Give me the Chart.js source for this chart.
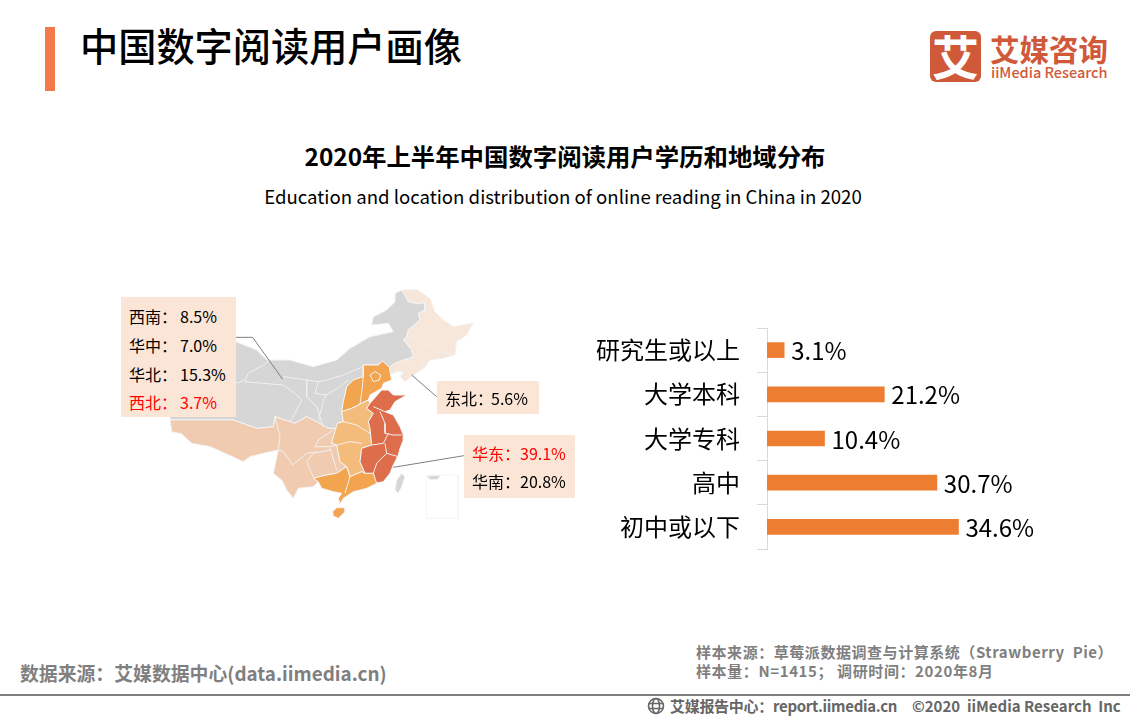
<!DOCTYPE html>
<html lang="zh">
<head>
<meta charset="utf-8">
<title>中国数字阅读用户画像</title>
<script src="https://cdn.jsdelivr.net/npm/chart.js@4"></script>
<style>
  html, body { margin: 0; padding: 0; width: 1130px; height: 720px; overflow: hidden; background: #fff; }
  body { position: relative; font-family: "Noto Sans CJK SC", "Noto Sans", sans-serif; color: #000; }
  canvas { position: absolute; }
  .t { position: absolute; white-space: nowrap; line-height: 1; }
  .box { position: absolute; background: #FBE5D6; }
  .row { position: absolute; white-space: nowrap; font-size: 16px; line-height: 1; }
  .row .v { position: absolute; top: 0; }
  .foot { color: #7F7F7F; font-weight: 700; }
</style>
</head>
<body>
<div style="position:absolute;left:45px;top:27px;width:10px;height:64px;background:#F4794B"></div>
<div class="t" id="title" style="left:80px;top:26px;font-size:38.2px;font-weight:500">中国数字阅读用户画像</div>

<div style="position:absolute;left:930px;top:31px;width:51px;height:51px;border-radius:6px;background:#D0593A"></div>
<div class="t" style="left:932px;top:31px;font-size:47px;font-weight:700;color:#fff">艾</div>
<div class="t" style="left:990px;top:34px;font-size:29.5px;font-weight:700;color:#D0593A">艾媒咨询</div>
<div class="t" style="left:991px;top:65px;font-size:14.5px;font-weight:500;color:#D0593A">iiMedia Research</div>

<div class="t" style="left:0;width:1130px;text-align:center;top:144px;font-size:24.4px;font-weight:700">2020年上半年中国数字阅读用户学历和地域分布</div>
<div class="t" style="left:-2px;width:1130px;text-align:center;top:187px;font-size:18.6px">Education and location distribution of online reading in China in 2020</div>

<canvas id="mapChart" width="470" height="250" style="left:110px;top:280px;width:470px;height:250px"></canvas>
<canvas id="eduChart" width="519" height="237" style="left:580px;top:320px;width:519px;height:237px"></canvas>
<div id="callouts"></div>

<div class="t foot" style="left:20px;top:664px;font-size:18.85px">数据来源：艾媒数据中心(data.iimedia.cn)</div>
<div class="t foot" style="left:696px;top:644px;font-size:15px;letter-spacing:.55px">样本来源：草莓派数据调查与计算系统（Strawberry&nbsp; Pie）</div>
<div class="t foot" style="left:696px;top:663px;font-size:15px;letter-spacing:.6px">样本量：N=1415； 调研时间：2020年8月</div>
<div style="position:absolute;left:0;top:694px;width:1130px;height:2px;background:#7F7F7F"></div>
<svg style="position:absolute;left:647px;top:697px" width="18" height="18" viewBox="0 0 18 18" fill="none" stroke="#666" stroke-width="1.6">
  <circle cx="9" cy="9" r="7.5"/><ellipse cx="9" cy="9" rx="3.5" ry="7.5"/><path d="M2 6.5h14M2 11.5h14"/>
</svg>
<div class="t foot" style="left:670px;top:698px;font-size:15px;color:#666;letter-spacing:-.3px">艾媒报告中心：report.iimedia.cn</div>
<div class="t foot" style="left:912px;top:698px;font-size:15px;color:#666">©2020&nbsp; iiMedia Research&nbsp; Inc</div>

<script>
// bar chart data
const eduLabels = ['研究生或以上', '大学本科', '大学专科', '高中', '初中或以下'];
const eduValues = [3.1, 21.2, 10.4, 30.7, 34.6];

// callout data
const westNames = ['西南', '华中', '华北', '西北'];
const westShares = ['8.5%', '7.0%', '15.3%', '3.7%'];
const northeastNames = ['东北'];
const northeastShares = ['5.6%'];
const eastNames = ['华东', '华南'];
const eastShares = ['39.1%', '20.8%'];

// map outlines, in map grid units (x 0-1410, y 0-750)
const outlineGrey = [[378,185],[440,210],[470,240],[540,240],[610,260],[680,240],[720,205],[780,170],[850,155],[835,130],[785,135],[790,110],[830,90],[855,65],[855,40],[875,30],[885,45],[895,65],[920,70],[945,68],[945,90],[925,100],[930,120],[895,150],[890,175],[880,178],[905,210],[910,232],[880,240],[855,250],[838,262],[820,245],[805,255],[795,255],[760,255],[760,290],[730,300],[710,320],[700,365],[695,395],[700,425],[682,430],[682,445],[655,445],[620,425],[590,410],[555,430],[495,410],[490,440],[440,445],[370,420],[180,420],[180,300],[350,100],[378,185]];
const outlineNortheast = [[875,30],[920,28],[960,55],[975,95],[1000,120],[1030,140],[1090,128],[1070,165],[1040,185],[1035,225],[1000,235],[960,240],[945,262],[905,290],[885,305],[870,290],[880,275],[860,275],[838,285],[838,262],[855,250],[880,240],[910,232],[905,210],[880,178],[890,175],[895,150],[930,120],[925,100],[945,90],[945,68],[920,70],[895,65],[885,45],[875,30]];
const outlineSouthwest = [[180,420],[185,455],[215,462],[245,490],[300,500],[345,520],[400,545],[420,530],[460,520],[505,510],[490,580],[515,600],[530,630],[550,655],[565,625],[610,620],[625,605],[610,595],[650,585],[680,580],[710,560],[690,545],[680,495],[665,490],[670,470],[682,445],[655,445],[620,425],[590,410],[555,430],[495,410],[490,440],[440,445],[370,420],[180,420]];
const outlineNorthOrange = [[760,255],[760,290],[730,300],[710,320],[700,365],[695,395],[725,385],[755,370],[775,360],[780,345],[815,325],[820,310],[845,300],[840,275],[838,262],[818,243],[805,255],[795,255],[760,255]];
const outlineCentral = [[695,395],[725,385],[755,370],[775,360],[780,370],[770,385],[790,400],[775,425],[780,445],[785,495],[755,505],[750,545],[765,580],[755,575],[720,590],[710,560],[690,545],[680,495],[665,490],[670,470],[682,430],[700,425],[695,395]];
const outlineEast = [[780,370],[815,330],[835,330],[850,345],[890,345],[855,365],[840,390],[825,395],[850,405],[870,440],[880,465],[880,480],[870,505],[865,525],[850,555],[840,580],[820,605],[795,610],[790,580],[765,580],[750,545],[755,505],[785,495],[780,445],[775,425],[790,400],[770,385],[780,370]];
const outlineSouthOrange = [[610,595],[650,585],[680,580],[710,560],[720,590],[755,575],[765,580],[790,580],[800,610],[770,625],[730,635],[700,655],[690,672],[685,655],[695,640],[670,635],[635,625],[625,605],[610,595]];
const outlineHainan = [[668,695],[680,683],[705,683],[705,695],[685,715],[670,708],[668,695]];
const outlineTaiwan = [[855,630],[860,600],[875,580],[885,590],[875,620],[865,640],[855,630]];
const outlineIslandsBox = [[950,585],[1045,585],[1045,715],[950,715],[950,585]];
const outlineIslandsTop = [[950,588],[990,586],[985,597],[962,600],[950,588]];

// inner borders between provinces
const innerBorders = [
  [[365,315],[405,300],[415,280],[460,255],[480,240]],
  [[405,305],[460,310],[520,315],[560,345],[575,360],[555,400],[540,425]],
  [[520,290],[590,300],[625,305],[650,300],[700,285],[755,262]],
  [[590,300],[590,350],[620,380],[640,440]],
  [[625,305],[615,340],[650,345],[640,360],[635,385],[625,420]],
  [[650,345],[690,320],[715,300]],
  [[885,170],[910,175],[940,195],[980,205],[1000,220],[1030,220]],
  [[905,230],[935,240],[940,265]],
  [[760,290],[755,340],[750,372]],
  [[780,285],[795,275],[812,285],[808,300],[790,305],[780,285]],
  [[790,380],[825,395]],
  [[810,395],[825,430],[825,460],[850,465],[875,465]],
  [[785,495],[820,490],[835,460]],
  [[825,490],[830,520],[865,530]],
  [[830,520],[800,550],[790,580]],
  [[710,560],[720,590],[705,640]],
  [[700,425],[740,435],[780,460]],
  [[680,495],[720,485],[755,490]],
  [[495,410],[510,470],[505,510],[520,515],[548,555],[590,520],[620,515]],
  [[670,450],[625,480],[615,500],[660,500],[680,495]],
  [[590,545],[610,520],[660,510]],
  [[590,545],[610,592]],
  [[660,505],[680,570]]
];

// leader lines from the callouts
const leaderWest = [[378,172],[428,172],[518,298]];
const leaderNortheast = [[905,285],[980,350]];
const leaderEast = [[850,562],[1062,527]];

function toPoints(list) {
  return list.map(p => ({ x: p[0], y: p[1] }));
}

function shape(list, color) {
  return {
    data: toPoints(list),
    showLine: true,
    fill: 'shape',
    backgroundColor: color,
    borderColor: '#F4F4F4',
    borderWidth: 1,
    pointRadius: 0,
    tension: 0
  };
}

function line(list, color, width) {
  return {
    data: toPoints(list),
    showLine: true,
    fill: false,
    borderColor: color,
    borderWidth: width,
    pointRadius: 0,
    tension: 0
  };
}

function renderMap() {
  const datasets = [
    shape(outlineGrey, '#D6D6D6'),
    shape(outlineNortheast, '#F7E6DA'),
    shape(outlineSouthwest, '#F0CBB0'),
    shape(outlineNorthOrange, '#F2A44E'),
    shape(outlineCentral, '#F4BC7A'),
    shape(outlineEast, '#DE6E4B'),
    shape(outlineSouthOrange, '#F2A44E'),
    shape(outlineHainan, '#F2A44E'),
    shape(outlineTaiwan, '#D6D6D6'),
    shape(outlineIslandsBox, '#FFFFFF'),
    shape(outlineIslandsTop, '#D6D6D6')
  ];
  innerBorders.forEach(b => datasets.push(line(b, '#F1F1F1', 1)));
  datasets.push(line(leaderWest, '#808080', 1));
  datasets.push(line(leaderNortheast, '#808080', 1));
  datasets.push(line(leaderEast, '#808080', 1));
  // Chart.js paints the first dataset last
  datasets.reverse();

  new Chart(document.getElementById('mapChart'), {
    type: 'scatter',
    data: { datasets },
    options: {
      responsive: false,
      animation: false,
      layout: { padding: 0 },
      plugins: { legend: { display: false }, tooltip: { enabled: false } },
      scales: {
        x: { type: 'linear', min: 0, max: 1410, display: false },
        y: { type: 'linear', min: 0, max: 750, reverse: true, display: false }
      }
    }
  });
}

// writes the value next to each bar
const barValueLabels = {
  id: 'barValueLabels',
  afterDatasetsDraw(chart) {
    const ctx = chart.ctx;
    ctx.save();
    ctx.font = '24px "Noto Sans CJK SC"';
    ctx.fillStyle = '#000';
    ctx.textBaseline = 'middle';
    chart.getDatasetMeta(0).data.forEach((bar, i) => {
      ctx.fillText(eduValues[i].toFixed(1) + '%', bar.x + 7, bar.y + 1);
    });
    ctx.restore();
  }
};

function renderBars() {
  new Chart(document.getElementById('eduChart'), {
    type: 'bar',
    data: {
      labels: eduLabels,
      datasets: [{ data: eduValues, backgroundColor: '#ED7D31', barThickness: 15 }]
    },
    plugins: [barValueLabels],
    options: {
      indexAxis: 'y',
      responsive: false,
      animation: false,
      layout: { padding: { top: 8, bottom: 8, left: 0, right: 0 } },
      plugins: { legend: { display: false }, tooltip: { enabled: false } },
      scales: {
        x: { min: 0, max: 60, display: false },
        y: {
          afterFit(scale) {
            scale.width = 187;
            scale.paddingTop = 0;
            scale.paddingBottom = 0;
          },
          border: { color: '#D9D9D9', width: 1 },
          grid: { drawOnChartArea: false, color: '#D9D9D9', tickLength: 10, offset: true },
          ticks: { color: '#000', padding: 17, font: { family: '"Noto Sans CJK SC"', size: 24 } }
        }
      }
    }
  });
}

function renderCallout(names, shares, left, top, width, height, firstRow, step, valueLeft, redName) {
  const host = document.getElementById('callouts');
  const box = document.createElement('div');
  box.className = 'box';
  box.style.cssText = `left:${left}px;top:${top}px;width:${width}px;height:${height}px`;
  host.appendChild(box);
  names.forEach((name, i) => {
    const row = document.createElement('div');
    row.className = 'row';
    row.style.left = (left + 8) + 'px';
    row.style.top = (top + firstRow + step * i) + 'px';
    row.style.color = name === redName ? '#FF0000' : '#000';
    row.innerHTML = `${name}：<span class="v" style="left:${valueLeft}px">${shares[i]}</span>`;
    host.appendChild(row);
  });
}

renderMap();
renderBars();
renderCallout(westNames, westShares, 121, 297, 115, 120, 11, 28.8, 51, '西北');
renderCallout(northeastNames, northeastShares, 437, 381, 102, 33, 9, 0, 46, '');
renderCallout(eastNames, eastShares, 464, 435, 111, 63, 10, 28, 48, '华东');
</script>
</body>
</html>
